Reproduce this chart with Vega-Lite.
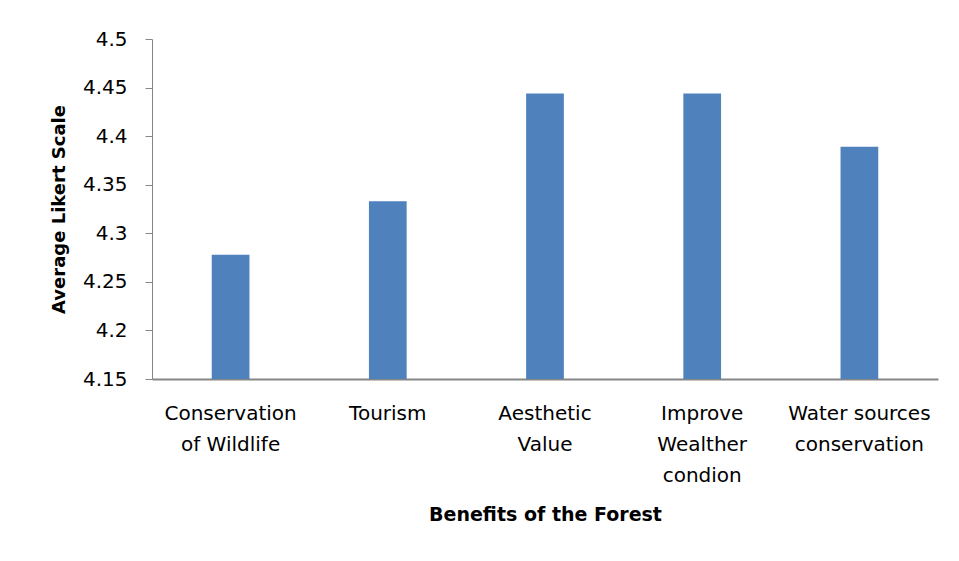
{
  "$schema": "https://vega.github.io/schema/vega-lite/v6.json",
  "width": 786,
  "height": 340,
  "autosize": {"type": "none"},
  "padding": {"left": 152, "top": 39, "right": 21, "bottom": 182},
  "background": "white",
  "data": {
    "values": [
      {"benefit": "Conservation|of Wildlife", "score": 4.278},
      {"benefit": "Tourism", "score": 4.333},
      {"benefit": "Aesthetic|Value", "score": 4.444},
      {"benefit": "Improve|Wealther|condion", "score": 4.444},
      {"benefit": "Water sources|conservation", "score": 4.389}
    ]
  },
  "mark": {"type": "bar", "color": "#4F81BD", "clip": true},
  "encoding": {
    "x": {
      "field": "benefit",
      "type": "nominal",
      "sort": null,
      "scale": {"paddingInner": 0.76, "paddingOuter": 0.38},
      "axis": {
        "title": "Benefits of the Forest",
        "labelExpr": "split(datum.label, '|')",
        "labelAngle": 0,
        "labelAlign": "center",
        "labelBaseline": "top",
        "labelLineHeight": 31,
        "labelPadding": 24,
        "labelFont": "DejaVu Sans",
        "labelFontSize": 20,
        "labelColor": "#000000",
        "ticks": false,
        "domainColor": "#868686",
        "domainWidth": 2,
        "titleFont": "DejaVu Sans",
        "titleFontSize": 19,
        "titleFontWeight": "bold",
        "titleColor": "#000000",
        "titlePadding": 20
      }
    },
    "y": {
      "field": "score",
      "type": "quantitative",
      "scale": {"domain": [4.15, 4.5], "zero": false, "nice": false},
      "axis": {
        "title": "Average Likert Scale",
        "values": [4.15, 4.2, 4.25, 4.3, 4.35, 4.4, 4.45, 4.5],
        "format": "~g",
        "grid": false,
        "tickSize": 7,
        "tickColor": "#868686",
        "domainColor": "#868686",
        "labelPadding": 18,
        "labelFont": "DejaVu Sans",
        "labelFontSize": 20,
        "labelColor": "#000000",
        "titleFont": "DejaVu Sans",
        "titleFontSize": 18,
        "titleFontWeight": "bold",
        "titleColor": "#000000",
        "titlePadding": 14
      }
    }
  },
  "config": {"view": {"stroke": null}}
}
